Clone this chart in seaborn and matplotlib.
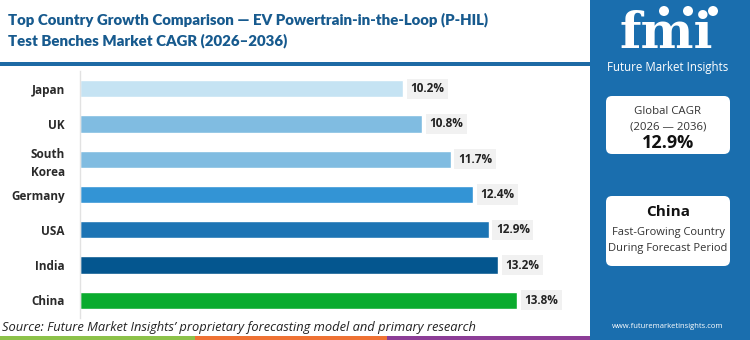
import matplotlib
matplotlib.use("Agg")
import matplotlib.pyplot as plt
import seaborn as sns
import pandas as pd
from matplotlib.patches import FancyBboxPatch, Rectangle

countries = ["Japan", "UK", "South\nKorea", "Germany", "USA", "India", "China"]
cagr = [10.2, 10.8, 11.7, 12.4, 12.9, 13.2, 13.8]
bar_colors = ["#c5e3f3", "#80bce1", "#80bce1", "#3394d5", "#1c74b4", "#04568f", "#0aab2e"]
value_labels = ["10.2%", "10.8%", "11.7%", "12.4%", "12.9%", "13.2%", "13.8%"]

title = "Top Country Growth Comparison \u2014 EV Powertrain-in-the-Loop (P-HIL)\nTest Benches Market CAGR (2026\u20132036)"
source = "Source: Future Market Insights\u2019 proprietary forecasting model and primary research"
global_cagr_label = ["Global CAGR", "(2026 \u2014 2036)"]
global_cagr_value = "12.9%"
lead_country = "China"
lead_text = ["Fast-Growing Country", "During Forecast Period"]
brand = "Future Market Insights"
website = "www.futuremarketinsights.com"

sns.set_theme(style="white")
plt.rcParams["font.family"] = ["Open Sans", "DejaVu Sans"]

W, H = 750, 340
fig = plt.figure(figsize=(7.5, 3.4), dpi=100)

# background overlay in pixel coords
bg = fig.add_axes([0, 0, 1, 1], zorder=0)
bg.set_xlim(0, W)
bg.set_ylim(H, 0)
bg.axis("off")

panel_blue = "#1a6eae"
title_blue = "#175a8e"
bg.add_patch(Rectangle((590, 0), 160, 340, color=panel_blue, lw=0))
bg.add_patch(Rectangle((0, 62), 590, 4, color="#1d6aa5", lw=0))
# bottom strip
bg.add_patch(Rectangle((0, 336), 195, 4, color="#8dc24a", lw=0))
bg.add_patch(Rectangle((195, 336), 192, 4, color="#ef7234", lw=0))
bg.add_patch(Rectangle((387, 336), 203, 4, color="#8c3d97", lw=0))

bg.text(8, 12, title, ha="left", va="top", fontsize=10.8, fontweight="heavy",
        color=title_blue, linespacing=1.6, family=["Lato", "DejaVu Sans"])
bg.text(2, 328, source, ha="left", va="center", fontsize=9.3, fontstyle="italic", color="#222222")

# logo
bg.text(666, 59, "fmi", ha="center", va="bottom", fontsize=36, fontweight="bold",
        color="white", family="DejaVu Serif")
for cx in [664, 688, 713]:
    bg.add_patch(plt.Circle((cx, 11), 5, color="white", lw=0))
bg.text(668, 67, brand, ha="center", va="center", fontsize=8.3, color="white")

# boxes
bg.add_patch(FancyBboxPatch((606, 96), 124, 58, boxstyle="round,pad=0,rounding_size=6",
                            fc="white", ec="none"))
bg.text(668, 112, global_cagr_label[0], ha="center", va="center", fontsize=8.2, color="#333333")
bg.text(668, 127, global_cagr_label[1], ha="center", va="center", fontsize=8.2, color="#333333")
bg.text(668, 143, global_cagr_value, ha="center", va="center", fontsize=13, fontweight="bold", color="#111111")

bg.add_patch(FancyBboxPatch((606, 196), 124, 70, boxstyle="round,pad=0,rounding_size=6",
                            fc="white", ec="none"))
bg.text(668, 212, lead_country, ha="center", va="center", fontsize=11, fontweight="bold", color="#111111")
bg.text(668, 233, lead_text[0], ha="center", va="center", fontsize=8, color="#333333")
bg.text(668, 249, lead_text[1], ha="center", va="center", fontsize=8, color="#333333")

bg.text(668, 327, website, ha="center", va="center", fontsize=5.5, color="white")

# chart
x0, x1 = 80, 580
y_top, y_bot = 71, 318
ax = fig.add_axes([x0 / W, (H - y_bot) / H, (x1 - x0) / W, (y_bot - y_top) / H], zorder=2)
ax.patch.set_alpha(0)

df = pd.DataFrame({"country": countries, "cagr": cagr})
sns.barplot(data=df, x="cagr", y="country", hue="country", palette=bar_colors,
            legend=False, orient="h", width=0.49, ax=ax, saturation=1)

ax.set_xlim(0, (x1 - x0) / 31.7)
ax.set_ylim(6.5, -0.5)
ax.set_xlabel("")
ax.set_ylabel("")
ax.set_xticks([])
for s in ["top", "right", "bottom"]:
    ax.spines[s].set_visible(False)
ax.spines["left"].set_color("#e2e2e2")
ax.spines["left"].set_linewidth(1)
ax.tick_params(axis="y", length=0, pad=11)
ax.set_yticks(range(len(countries)))
ax.set_yticklabels(countries, fontsize=8.5, fontweight="bold", color="#2a2a2a", linespacing=1.5)
ax.set_yticks([i - 0.5 for i in range(len(countries) + 1)], minor=True)
ax.tick_params(axis="y", which="minor", length=4, color="#e2e2e2", width=1)

for i, (v, lab) in enumerate(zip(cagr, value_labels)):
    ax.annotate(lab, xy=(v, i), xytext=(7, 0), textcoords="offset pixels",
                ha="left", va="center", fontsize=8.5, fontweight="bold", color="#222222",
                bbox=dict(boxstyle="square,pad=0.3", fc="#f1f1f1", ec="none"))

fig.savefig("out.png", dpi=100)
